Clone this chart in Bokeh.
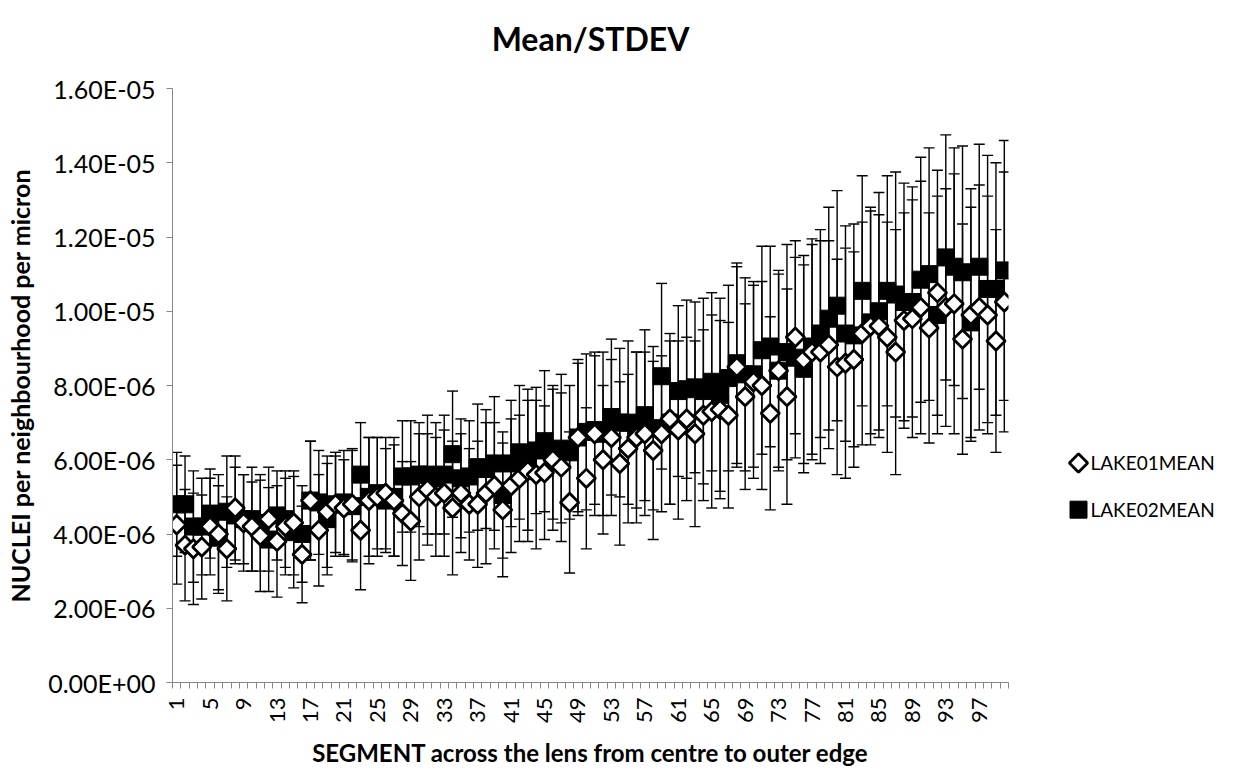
import numpy as np
from bokeh.plotting import figure
from bokeh.layouts import row, column
from bokeh.models import (ColumnDataSource, Whisker, TeeHead, FixedTicker,
                          CustomJSTickFormatter, Range1d)
from bokeh.core.properties import value
from bokeh.embed import file_html
from bokeh.resources import INLINE

# ---------------- data ----------------
segments = list(range(1, 101))

lake01_mean = [4.25, 3.7, 3.6, 3.65, 4.2, 4.0, 3.6, 4.7, 4.3, 4.2,
               3.95, 4.4, 3.8, 4.2, 4.3, 3.45, 4.9, 4.1, 4.6, 4.8,
               4.7, 4.8, 4.1, 4.9, 5.0, 5.1, 4.9, 4.55, 4.35, 5.0,
               5.2, 5.0, 5.1, 4.7, 5.1, 4.8, 4.8, 5.1, 5.3, 4.65,
               5.3, 5.5, 5.7, 5.6, 5.65, 6.0, 5.8, 4.85, 6.6, 5.5,
               6.7, 6.0, 6.6, 5.9, 6.3, 6.6, 6.7, 6.25, 6.7, 7.1,
               6.8, 7.1, 6.7, 7.2, 7.3, 7.35, 7.2, 8.5, 7.7, 8.1,
               8.0, 7.25, 8.4, 7.7, 9.3, 8.7, 8.9, 8.9, 9.1, 8.5,
               8.6, 8.7, 9.4, 9.6, 9.6, 9.3, 8.9, 9.75, 9.8, 10.1,
               9.55, 10.5, 10.1, 10.2, 9.25, 9.9, 10.1, 9.9, 9.2, 10.25]
lake01_mean = [v * 1e-6 for v in lake01_mean]

lake01_std = [1.6, 1.5, 1.5, 1.4, 1.3, 1.6, 1.4, 1.4, 1.3, 1.2,
              1.5, 1.4, 1.5, 1.3, 1.4, 1.3, 1.6, 1.5, 1.5, 1.4,
              1.3, 1.5, 1.6, 1.7, 1.6, 1.5, 1.5, 1.4, 1.6, 1.7,
              1.5, 1.6, 1.7, 1.8, 1.6, 1.5, 1.7, 1.9, 1.7, 1.8,
              1.8, 1.7, 1.9, 2.0, 1.8, 1.9, 2.0, 1.9, 2.1, 1.9,
              2.2, 2.0, 2.1, 2.2, 2.0, 2.3, 2.2, 2.4, 2.1, 2.3,
              2.4, 2.2, 2.5, 2.3, 2.6, 2.4, 2.5, 2.7, 2.5, 2.6,
              2.8, 2.6, 2.7, 2.9, 2.6, 2.8, 2.9, 3.0, 2.8, 2.9,
              3.1, 2.9, 3.0, 3.2, 3.0, 3.1, 3.3, 2.9, 3.2, 3.4,
              3.1, 3.3, 3.2, 3.5, 3.1, 3.4, 3.3, 3.2, 3.0, 3.5]
lake01_std = [v * 1e-6 for v in lake01_std]

lake02_mean = [4.8, 4.8, 4.2, 4.2, 4.55, 3.9, 4.6, 4.5, 4.4, 4.4,
               4.3, 3.85, 4.5, 4.4, 4.05, 4.0, 4.9, 4.85, 4.4, 4.8,
               4.85, 4.75, 5.6, 5.0, 5.1, 4.9, 5.0, 5.55, 5.55, 5.6,
               5.6, 5.5, 5.6, 6.15, 5.5, 5.55, 5.8, 5.75, 5.9, 5.05,
               5.9, 6.2, 6.0, 6.25, 6.5, 6.2, 6.3, 6.2, 6.6, 6.75,
               6.8, 6.7, 7.15, 7.0, 7.0, 6.8, 7.2, 6.85, 8.25, 7.0,
               7.85, 7.9, 7.95, 7.85, 8.1, 7.75, 8.2, 8.6, 8.3, 8.3,
               8.95, 9.05, 8.4, 8.9, 8.75, 8.45, 9.05, 9.4, 9.8, 10.15,
               9.4, 9.35, 10.55, 9.7, 10.0, 10.55, 10.45, 10.25, 10.25, 10.85,
               11.0, 9.9, 11.45, 11.2, 11.05, 9.7, 11.2, 10.6, 10.6, 11.1]
lake02_mean = [v * 1e-6 for v in lake02_mean]

lake02_std = [1.4, 1.3, 1.5, 1.3, 1.2, 1.4, 1.5, 1.3, 1.2, 1.4,
              1.3, 1.4, 1.2, 1.3, 1.5, 1.3, 1.6, 1.4, 1.5, 1.3,
              1.4, 1.5, 1.4, 1.6, 1.5, 1.4, 1.6, 1.5, 1.5, 1.4,
              1.6, 1.5, 1.6, 1.7, 1.6, 1.5, 1.7, 1.6, 1.8, 1.7,
              1.7, 1.8, 1.9, 1.7, 1.9, 1.8, 2.0, 1.8, 2.0, 2.1,
              2.0, 2.2, 2.1, 2.0, 2.2, 2.1, 2.3, 2.2, 2.5, 2.2,
              2.3, 2.4, 2.3, 2.5, 2.4, 2.6, 2.5, 2.7, 2.6, 2.5,
              2.8, 2.7, 2.6, 2.9, 2.7, 2.8, 2.9, 2.8, 3.0, 3.1,
              2.9, 3.0, 3.1, 3.0, 3.2, 3.1, 3.3, 3.2, 3.1, 3.3,
              3.4, 3.2, 3.3, 3.2, 3.4, 3.1, 3.3, 3.6, 3.4, 3.5]
lake02_std = [v * 1e-6 for v in lake02_std]

x_tick_labels = [str(v) for v in range(1, 101, 4)]
y_ticks = [0, 2e-6, 4e-6, 6e-6, 8e-6, 1e-5, 1.2e-5, 1.4e-5, 1.6e-5]
series_names = ["LAKE01MEAN", "LAKE02MEAN"]

title_text = "Mean/STDEV"
x_title = "SEGMENT across the lens from centre to outer edge"
y_title = "NUCLEI per neighbourhood per micron"

# ---------------- geometry (page pixels) ----------------
FONT = "Lato"
H = 770          # total height
HDR = 60         # height of the title strip
TOP, BOTTOM = 88, 686   # plot frame top / bottom on the page
LEFT, RIGHT = 172, 1008
W_MAIN = 1010
LW = 240

# ---------------- title strip ----------------
hdr = figure(width=W_MAIN + LW, height=HDR, output_backend="svg", toolbar_location=None,
             x_range=Range1d(0, W_MAIN + LW), y_range=Range1d(0, HDR),
             min_border_left=0, min_border_right=0, min_border_top=0, min_border_bottom=0)
hdr.axis.visible = False
hdr.grid.visible = False
hdr.outline_line_color = None
hdr.text(x=[(LEFT + RIGHT) / 2], y=[HDR - 38], text=[title_text],
         text_font=value(FONT), text_font_size="32px", text_font_style="bold",
         text_align="center", text_baseline="middle", text_color="black")

# ---------------- main figure ----------------
H2 = H - HDR
p = figure(width=W_MAIN, height=H2, output_backend="svg", toolbar_location=None,
           x_range=(0.5, 100.5), y_range=(0, 1.6e-5),
           min_border_left=LEFT, min_border_right=W_MAIN - RIGHT,
           min_border_top=TOP - HDR, min_border_bottom=H - BOTTOM)
p.outline_line_color = None
p.grid.visible = False

axis_grey = "#868686"

xa = p.xaxis[0]
xa.ticker = FixedTicker(ticks=[int(t) for t in x_tick_labels],
                        minor_ticks=[s - 0.5 for s in segments] + [100.5])
xa.major_label_orientation = np.pi / 2
xa.major_tick_out = 0
xa.major_tick_in = 0
xa.minor_tick_out = 6
xa.minor_tick_in = 0
xa.minor_tick_line_color = axis_grey
xa.axis_line_color = axis_grey
xa.major_label_text_font = FONT
xa.major_label_text_font_size = "22px"
xa.major_label_text_color = "black"
xa.major_label_standoff = 9
xa.axis_label = x_title
xa.axis_label_text_font = FONT
xa.axis_label_text_font_size = "24px"
xa.axis_label_text_font_style = "bold"
xa.axis_label_text_color = "black"
xa.axis_label_standoff = 12

ya = p.yaxis[0]
ya.ticker = FixedTicker(ticks=y_ticks, minor_ticks=[])
ya.formatter = CustomJSTickFormatter(code="""
let s = tick.toExponential(2).toUpperCase();
const parts = s.split("E");
let e = parseInt(parts[1]);
const sign = e < 0 ? "-" : "+";
e = Math.abs(e);
return parts[0] + "E" + sign + (e < 10 ? "0" : "") + e;
""")
ya.major_tick_out = 6
ya.major_tick_in = 0
ya.major_tick_line_color = axis_grey
ya.axis_line_color = axis_grey
ya.major_label_text_font = FONT
ya.major_label_text_font_size = "25px"
ya.major_label_text_color = "black"
ya.major_label_standoff = 11
ya.axis_label = y_title
ya.axis_label_text_font = FONT
ya.axis_label_text_font_size = "25px"
ya.axis_label_text_font_style = "bold"
ya.axis_label_text_color = "black"
ya.axis_label_standoff = 10

# ---------------- data sources ----------------
src1 = ColumnDataSource(dict(
    x=segments, y=lake01_mean,
    upper=[m + s for m, s in zip(lake01_mean, lake01_std)],
    lower=[m - s for m, s in zip(lake01_mean, lake01_std)]))
src2 = ColumnDataSource(dict(
    x=segments, y=lake02_mean,
    upper=[m + s for m, s in zip(lake02_mean, lake02_std)],
    lower=[m - s for m, s in zip(lake02_mean, lake02_std)]))

for src in (src1, src2):
    w = Whisker(base="x", upper="upper", lower="lower", source=src,
                line_color="black", line_width=1.4,
                upper_head=TeeHead(size=11, line_color="black", line_width=1.4),
                lower_head=TeeHead(size=11, line_color="black", line_width=1.4))
    w.level = "underlay"
    p.add_layout(w)

SQ = dict(marker="square", size=17, fill_color="black", line_color="black", line_width=1)
DM = dict(marker="square", size=13, angle=np.pi / 4,
          fill_color="white", line_color="black", line_width=2.8)

p.scatter("x", "y", source=src2, **SQ)
p.scatter("x", "y", source=src1, **DM)

# ---------------- legend panel (separate figure, page-pixel data units) ----------------
leg = figure(width=LW, height=H2, output_backend="svg", toolbar_location=None,
             x_range=Range1d(0, LW), y_range=Range1d(H - BOTTOM, H - TOP),
             min_border_left=0, min_border_right=0,
             min_border_top=TOP - HDR, min_border_bottom=H - BOTTOM)
leg.axis.visible = False
leg.grid.visible = False
leg.outline_line_color = None

leg_x = [68]
leg_y = [H - 465, H - 512]
leg.scatter(x=leg_x, y=[leg_y[0]], **DM)
leg.scatter(x=leg_x, y=[leg_y[1]], **SQ)
leg.text(x=[leg_x[0] + 12] * 2, y=leg_y, text=series_names,
         text_font=value(FONT), text_font_size="19px",
         text_baseline="middle", text_align="left", text_color="black")

layout = column(hdr, row(p, leg, spacing=0), spacing=0)
open("out.html", "w").write(file_html(layout, INLINE))
